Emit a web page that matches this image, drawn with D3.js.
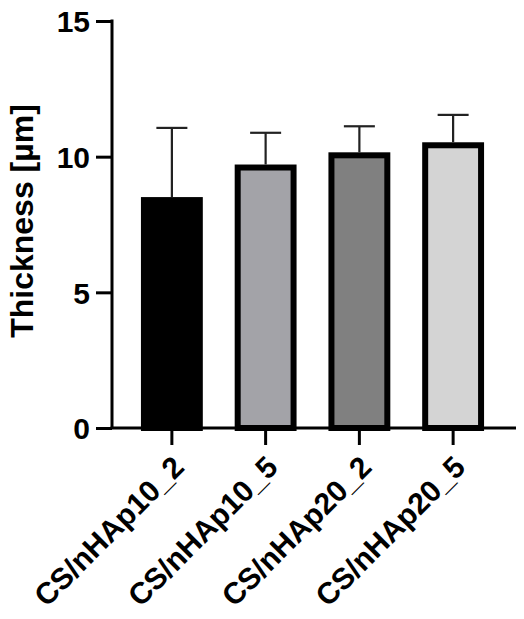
<!DOCTYPE html>
<html><head><meta charset="utf-8">
<script src="https://cdn.jsdelivr.net/npm/d3@7"></script>
<style>body{margin:0;background:#fff}svg{display:block}text{font-family:"Liberation Sans",Arial,sans-serif;font-weight:bold;fill:#000}</style>
</head><body><svg id="c" width="524" height="619"></svg>
<script>
const categories = ["CS/nHAp10_2","CS/nHAp10_5","CS/nHAp20_2","CS/nHAp20_5"];
const means = [8.4, 9.6, 10.05, 10.42];
const errors = [2.66, 1.28, 1.07, 1.12];
const colors = ["#000000","#a3a3a8","#808080","#d4d4d4"];
const yTicks = [0, 5, 10, 15];

const svg = d3.select("#c");
const x = d3.scaleBand().domain(categories).range([110, 515]).paddingInner(0.34).paddingOuter(0.33);
const y = d3.scaleLinear().domain([0, 15]).range([428, 21]);
const SW = 6;

// bars
svg.selectAll("rect.bar").data(categories).join("rect")
  .attr("x", d => x(d) + SW/2)
  .attr("width", x.bandwidth() - SW)
  .attr("y", (d,i) => y(means[i]))
  .attr("height", (d,i) => y(0) - y(means[i]))
  .attr("fill", (d,i) => colors[i])
  .attr("stroke", "#000").attr("stroke-width", SW);

// error bars
const eb = svg.append("g").attr("stroke", "#222").attr("stroke-width", 2.2);
categories.forEach((c,i) => {
  const cx = x(c) + x.bandwidth()/2;
  eb.append("line").attr("x1", cx).attr("x2", cx).attr("y1", y(means[i]) - SW/2).attr("y2", y(means[i] + errors[i]));
  eb.append("line").attr("x1", cx - 15.5).attr("x2", cx + 15.5).attr("y1", y(means[i] + errors[i])).attr("y2", y(means[i] + errors[i]));
});

// y axis
const yAxis = d3.axisLeft(y).tickValues(yTicks).tickSize(16).tickPadding(6).tickFormat(d3.format("d"));
const gy = svg.append("g").attr("transform", "translate(112,0)").call(yAxis);
gy.select(".domain").remove();
gy.selectAll(".tick line").attr("stroke", "#000").attr("stroke-width", 3);
gy.selectAll(".tick text").attr("font-size", 30).attr("dy", "0.36em");
svg.append("line").attr("x1", 112).attr("x2", 112).attr("y1", y(15) - 1.5).attr("y2", y(0)).attr("stroke", "#000").attr("stroke-width", 3);

// x axis
const xAxis = d3.axisBottom(x).tickSize(17).tickPadding(0);
const gx = svg.append("g").attr("transform", `translate(0,${y(0)})`).call(xAxis);
gx.select(".domain").remove();
gx.selectAll(".tick line").attr("stroke", "#000").attr("stroke-width", 3);
gx.selectAll(".tick text").attr("font-size", 30)
  .attr("text-anchor", "end").attr("dy", null).attr("y", null)
  .attr("transform", "translate(14,41) rotate(-45)");
svg.append("line").attr("x1", 110.5).attr("x2", 516).attr("y1", y(0)).attr("y2", y(0)).attr("stroke", "#000").attr("stroke-width", 3);

// y label
svg.append("text").attr("transform", "translate(33,221) rotate(-90)")
  .attr("text-anchor", "middle").attr("font-size", 32).text("Thickness [µm]");
</script></body></html>
